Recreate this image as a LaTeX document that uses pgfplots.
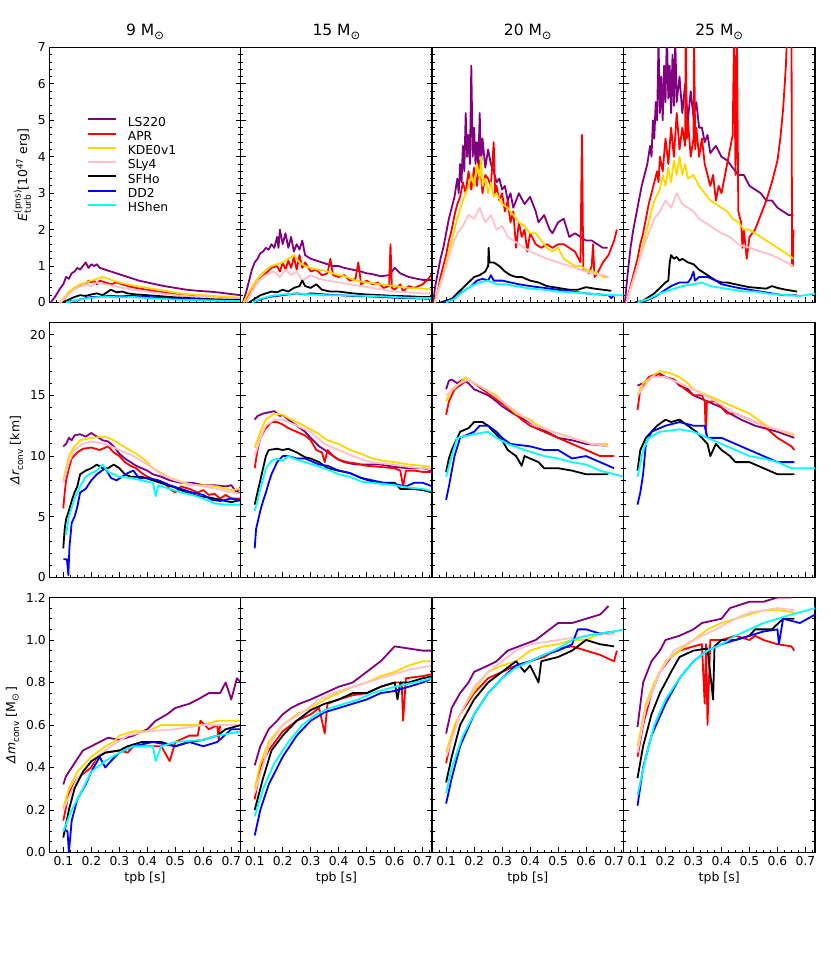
\documentclass[border=0pt]{standalone}
\usepackage{fontspec}
\setmainfont{DejaVu Sans}
\usepackage{pgfplots}
\pgfplotsset{compat=1.18}
\definecolor{cLS}{RGB}{128,0,128}
\definecolor{cAPR}{RGB}{255,0,0}
\definecolor{cKDE}{RGB}{255,215,0}
\definecolor{cSLy}{RGB}{255,192,203}
\definecolor{cSFH}{RGB}{0,0,0}
\definecolor{cDD}{RGB}{0,0,255}
\definecolor{cHS}{RGB}{0,255,255}
\newcommand{\fs}[1]{\fontsize{#1}{#1}\selectfont}
\newcommand{\supsub}[2]{\rlap{\raisebox{0.52em}{\fs{9}#1}}\raisebox{-0.3em}{\fs{9}#2}}
\newcommand{\sub}[1]{\raisebox{-0.3em}{\fs{9}#1}}
\newcommand{\sun}[1]{\raisebox{-0.25em}{\fs{#1}⊙}}
\pgfplotsset{
 base/.style={scale only axis,width=191.4pt,height=255pt,xmin=0.05,xmax=0.7336,
   xtick={0.1,0.2,0.3,0.4,0.5,0.6,0.7},
   minor xtick={0.075,0.1,0.125,0.15,0.175,0.2,0.225,0.25,0.275,0.3,0.325,0.35,0.375,0.4,0.425,0.45,0.475,0.5,0.525,0.55,0.575,0.6,0.625,0.65,0.675,0.7,0.725},
   tick align=inside, xtick pos=left, ytick pos=both,
   major tick length=5pt, minor tick length=2.5pt,
   every tick/.style={black,line width=0.9pt},
   axis line style={line width=1.4pt},
   /pgf/number format/assume math mode=true,
   tick label style={font=\fs{12.3}},
   label style={font=\fs{12.5}},
   x tick label style={/pgf/number format/.cd,fixed,fixed zerofill,precision=1},
   title style={at={(0.5,1)},anchor=base,yshift=6pt,font=\fs{15.5}},
   every axis plot/.append style={line width=1.8pt,line join=round},
 },
 r1/.style={ymin=0,ymax=7,ytick={0,1,2,3,4,5,6,7},minor ytick={0,0.2,...,7}},
 r2/.style={ymin=0,ymax=21,ytick={0,5,10,15,20},minor ytick={0,1,...,21}},
 r3/.style={ymin=0,ymax=1.2,ytick={0,0.2,0.4,0.6,0.8,1.0,1.2},
   minor ytick={0.05,0.1,0.15,0.2,0.25,0.3,0.35,0.4,0.45,0.5,0.55,0.6,0.65,0.7,0.75,0.8,0.85,0.9,0.95,1.0,1.05,1.1,1.15},
   yticklabel style={/pgf/number format/.cd,fixed,fixed zerofill,precision=1},
   xlabel={tpb [s]}},
 nox/.style={xticklabels={}},
 noy/.style={yticklabels={}},
}
\begin{document}
\begin{tikzpicture}
\path[use as bounding box] (0,0) rectangle (830pt,958pt);
% ================= ROW 1 =================
\begin{axis}[base,r1,nox,at={(49.3pt,910.5pt)},anchor=north west,
  title={9 M\sun{11.5}},
  ylabel={{\itshape E}\supsub{(pns)}{turb} [10\textsuperscript{47} erg]},
  legend style={at={(0.198,0.728)},anchor=north west,draw=none,fill=none,inner sep=0pt,
    font=\fs{12.3},nodes={inner sep=0pt,text height=9pt,text depth=2.5pt},row sep=2.8pt,
    /tikz/every odd column/.style={column sep=10.5pt}},
  legend cell align=left,
  legend image code/.code={\draw[#1,line width=2pt] (0pt,3.5pt) -- (28pt,3.5pt);}]
\addplot[cLS] coordinates {(0.055,0)(0.07,0.15)(0.09,0.4)(0.1,0.5)(0.11,0.7)(0.12,0.65)(0.13,0.8)(0.14,0.85)(0.15,0.95)(0.16,0.9)(0.17,1.0)(0.18,1.1)(0.19,0.95)(0.2,1.05)(0.21,1.0)(0.22,1.05)(0.23,0.95)(0.25,0.9)(0.27,0.85)(0.29,0.8)(0.31,0.75)(0.33,0.7)(0.35,0.65)(0.37,0.6)(0.4,0.55)(0.43,0.5)(0.46,0.45)(0.5,0.4)(0.54,0.35)(0.58,0.32)(0.62,0.3)(0.66,0.27)(0.7,0.23)(0.735,0.2)};
\addlegendentry{LS220}
\addplot[cAPR] coordinates {(0.09,0)(0.1,0.05)(0.12,0.25)(0.14,0.4)(0.16,0.45)(0.18,0.5)(0.19,0.6)(0.2,0.55)(0.21,0.6)(0.22,0.5)(0.23,0.6)(0.25,0.55)(0.27,0.5)(0.29,0.55)(0.31,0.5)(0.33,0.45)(0.36,0.4)(0.4,0.35)(0.44,0.3)(0.48,0.25)(0.52,0.2)(0.56,0.18)(0.6,0.15)(0.64,0.13)(0.68,0.12)(0.735,0.1)};
\addlegendentry{APR}
\addplot[cKDE] coordinates {(0.085,0)(0.1,0.1)(0.12,0.3)(0.14,0.4)(0.16,0.5)(0.18,0.55)(0.2,0.6)(0.22,0.65)(0.24,0.7)(0.26,0.65)(0.28,0.6)(0.3,0.55)(0.33,0.5)(0.36,0.45)(0.4,0.4)(0.44,0.35)(0.48,0.3)(0.52,0.25)(0.56,0.22)(0.6,0.2)(0.65,0.17)(0.7,0.15)(0.735,0.13)};
\addlegendentry{KDE0v1}
\addplot[cSLy] coordinates {(0.09,0)(0.11,0.15)(0.13,0.3)(0.15,0.4)(0.18,0.5)(0.2,0.45)(0.22,0.55)(0.25,0.5)(0.28,0.45)(0.31,0.4)(0.35,0.35)(0.4,0.3)(0.45,0.25)(0.5,0.2)(0.55,0.17)(0.6,0.15)(0.65,0.12)(0.735,0.1)};
\addlegendentry{SLy4}
\addplot[cSFH] coordinates {(0.1,0)(0.12,0.08)(0.14,0.15)(0.16,0.2)(0.18,0.18)(0.2,0.22)(0.22,0.25)(0.24,0.2)(0.26,0.3)(0.27,0.35)(0.29,0.28)(0.31,0.3)(0.33,0.25)(0.36,0.22)(0.4,0.2)(0.45,0.17)(0.5,0.14)(0.55,0.12)(0.6,0.1)(0.65,0.08)(0.735,0.07)};
\addlegendentry{SFHo}
\addplot[cDD] coordinates {(0.11,0)(0.14,0.05)(0.17,0.1)(0.2,0.15)(0.23,0.15)(0.26,0.18)(0.3,0.17)(0.35,0.18)(0.4,0.15)(0.45,0.13)(0.5,0.1)(0.55,0.1)(0.6,0.08)(0.65,0.06)(0.735,0.05)};
\addlegendentry{DD2}
\addplot[cHS] coordinates {(0.11,0)(0.15,0.07)(0.2,0.13)(0.25,0.16)(0.3,0.14)(0.35,0.15)(0.4,0.12)(0.45,0.1)(0.5,0.08)(0.55,0.07)(0.6,0.06)(0.65,0.05)(0.735,0.04)};
\addlegendentry{HShen}
\end{axis}
\begin{axis}[base,r1,nox,noy,at={(240.7pt,910.5pt)},anchor=north west,title={15 M\sun{11.5}}]
\addplot[cLS] coordinates {(0.058,0)(0.07,0.3)(0.08,0.6)(0.09,0.9)(0.1,1.1)(0.11,1.2)(0.12,1.35)(0.13,1.4)(0.14,1.5)(0.15,1.45)(0.16,1.6)(0.17,1.5)(0.18,1.8)(0.185,1.5)(0.19,2.0)(0.2,1.6)(0.21,1.9)(0.22,1.5)(0.23,1.8)(0.24,1.4)(0.25,1.6)(0.26,1.45)(0.27,1.7)(0.28,1.3)(0.3,1.2)(0.32,1.15)(0.34,1.1)(0.36,1.05)(0.38,1.0)(0.4,1.0)(0.42,0.95)(0.45,0.9)(0.48,0.85)(0.5,0.8)(0.52,0.78)(0.55,0.72)(0.58,0.75)(0.6,0.95)(0.62,0.8)(0.65,0.7)(0.68,0.65)(0.7,0.62)(0.735,0.62)};
\addplot[cAPR] coordinates {(0.06,0)(0.08,0.2)(0.1,0.45)(0.12,0.65)(0.14,0.8)(0.16,0.95)(0.18,1.0)(0.19,0.85)(0.2,1.1)(0.21,0.9)(0.22,1.15)(0.23,0.95)(0.24,1.25)(0.25,0.9)(0.26,1.3)(0.27,0.95)(0.28,1.1)(0.3,0.85)(0.32,0.9)(0.34,0.75)(0.36,0.8)(0.37,1.2)(0.38,0.75)(0.4,0.7)(0.42,0.75)(0.44,0.6)(0.46,0.65)(0.47,1.1)(0.48,0.5)(0.5,0.6)(0.52,0.5)(0.54,0.55)(0.56,0.4)(0.58,0.45)(0.585,1.6)(0.59,0.4)(0.6,0.35)(0.62,0.5)(0.63,0.3)(0.65,0.45)(0.67,0.4)(0.7,0.5)(0.72,0.65)(0.735,0.8)};
\addplot[cKDE] coordinates {(0.06,0)(0.08,0.3)(0.1,0.55)(0.12,0.75)(0.14,0.9)(0.16,1.0)(0.18,1.05)(0.2,1.1)(0.22,1.2)(0.24,1.3)(0.26,1.1)(0.28,1.0)(0.3,0.95)(0.33,0.9)(0.36,0.85)(0.4,0.75)(0.43,0.7)(0.46,0.6)(0.5,0.55)(0.55,0.5)(0.6,0.45)(0.65,0.4)(0.7,0.38)(0.735,0.35)};
\addplot[cSLy] coordinates {(0.07,0)(0.09,0.3)(0.11,0.55)(0.13,0.7)(0.15,0.8)(0.17,0.85)(0.19,0.7)(0.21,0.9)(0.23,0.75)(0.25,0.85)(0.27,0.6)(0.3,0.75)(0.33,0.65)(0.36,0.6)(0.4,0.55)(0.44,0.5)(0.48,0.45)(0.52,0.4)(0.56,0.35)(0.6,0.3)(0.65,0.28)(0.7,0.25)(0.735,0.25)};
\addplot[cSFH] coordinates {(0.08,0)(0.1,0.1)(0.12,0.2)(0.14,0.25)(0.16,0.3)(0.18,0.28)(0.2,0.35)(0.22,0.3)(0.24,0.4)(0.26,0.45)(0.27,0.6)(0.28,0.45)(0.3,0.4)(0.32,0.5)(0.34,0.35)(0.37,0.3)(0.4,0.3)(0.45,0.25)(0.5,0.22)(0.55,0.2)(0.6,0.18)(0.65,0.17)(0.7,0.15)(0.735,0.15)};
\addplot[cDD] coordinates {(0.09,0)(0.12,0.08)(0.15,0.15)(0.2,0.2)(0.25,0.25)(0.28,0.22)(0.3,0.25)(0.35,0.22)(0.4,0.2)(0.45,0.18)(0.5,0.17)(0.55,0.15)(0.6,0.13)(0.65,0.12)(0.735,0.1)};
\addplot[cHS] coordinates {(0.09,0)(0.12,0.1)(0.16,0.18)(0.2,0.22)(0.25,0.25)(0.3,0.22)(0.35,0.2)(0.4,0.2)(0.45,0.19)(0.5,0.18)(0.55,0.17)(0.6,0.15)(0.65,0.13)(0.735,0.12)};
\end{axis}
\begin{axis}[base,r1,nox,noy,at={(432.1pt,910.5pt)},anchor=north west,title={20 M\sun{11.5}}]
\addplot[cLS] coordinates {(0.055,0)(0.06,0.4)(0.07,0.8)(0.08,1.2)(0.09,1.5)(0.1,1.9)(0.11,2.3)(0.12,2.6)(0.13,2.9)(0.14,3.4)(0.145,3.0)(0.15,3.8)(0.155,3.3)(0.16,4.3)(0.165,3.6)(0.17,5.2)(0.175,4.0)(0.18,4.6)(0.185,3.8)(0.19,6.5)(0.195,4.0)(0.2,4.8)(0.205,3.8)(0.21,4.4)(0.215,3.7)(0.22,5.2)(0.225,3.8)(0.23,4.5)(0.24,3.7)(0.25,4.2)(0.26,3.8)(0.27,3.6)(0.28,3.3)(0.29,3.4)(0.3,3.1)(0.31,3.2)(0.32,2.8)(0.33,3.0)(0.34,2.6)(0.36,3.0)(0.38,2.7)(0.4,2.9)(0.42,2.5)(0.43,2.2)(0.45,2.4)(0.47,2.0)(0.48,1.9)(0.5,2.2)(0.52,2.3)(0.54,1.8)(0.56,1.9)(0.58,1.8)(0.6,1.7)(0.62,1.7)(0.64,1.6)(0.66,1.5)(0.677,1.5)};
\addplot[cAPR] coordinates {(0.058,0)(0.07,0.3)(0.08,0.7)(0.09,1.0)(0.1,1.3)(0.11,1.7)(0.12,2.0)(0.13,2.4)(0.14,2.7)(0.15,2.9)(0.16,3.3)(0.17,3.0)(0.18,3.6)(0.19,3.1)(0.2,3.7)(0.21,3.2)(0.22,3.9)(0.23,3.0)(0.24,3.5)(0.25,3.4)(0.26,3.2)(0.27,4.4)(0.275,3.0)(0.28,3.2)(0.29,2.8)(0.3,3.0)(0.31,2.5)(0.32,2.8)(0.33,2.2)(0.34,2.5)(0.35,1.5)(0.36,2.2)(0.37,1.8)(0.38,2.0)(0.39,1.4)(0.4,1.9)(0.42,1.6)(0.44,1.5)(0.46,1.6)(0.48,1.5)(0.5,1.6)(0.52,1.6)(0.54,1.5)(0.56,1.4)(0.58,1.1)(0.585,4.6)(0.59,0.9)(0.6,0.9)(0.61,0.8)(0.62,1.0)(0.625,1.6)(0.63,0.7)(0.64,0.8)(0.66,1.1)(0.68,1.3)(0.7,1.7)(0.71,2.0)};
\addplot[cKDE] coordinates {(0.058,0)(0.07,0.3)(0.09,0.8)(0.1,1.1)(0.12,1.7)(0.14,2.3)(0.16,2.8)(0.18,3.2)(0.19,3.5)(0.2,3.2)(0.21,3.8)(0.22,3.4)(0.225,4.0)(0.23,3.2)(0.24,3.4)(0.25,3.0)(0.26,3.3)(0.27,2.9)(0.28,3.0)(0.3,2.7)(0.32,2.6)(0.34,2.4)(0.36,2.2)(0.38,2.1)(0.4,1.9)(0.42,1.9)(0.44,1.7)(0.46,1.5)(0.48,1.4)(0.5,1.5)(0.52,1.2)(0.54,1.1)(0.56,1.0)(0.58,1.0)(0.6,0.9)(0.62,0.85)(0.64,0.8)(0.66,0.7)(0.68,0.7)};
\addplot[cSLy] coordinates {(0.06,0)(0.08,0.5)(0.1,1.0)(0.12,1.5)(0.14,1.9)(0.16,2.1)(0.18,2.4)(0.2,2.3)(0.22,2.6)(0.24,2.2)(0.26,2.4)(0.28,2.0)(0.3,2.1)(0.32,1.8)(0.34,1.7)(0.36,1.6)(0.38,1.5)(0.4,1.4)(0.43,1.3)(0.46,1.2)(0.5,1.1)(0.54,1.0)(0.58,0.9)(0.62,0.8)(0.66,0.75)(0.68,0.7)};
\addplot[cSFH] coordinates {(0.08,0)(0.1,0.05)(0.12,0.1)(0.14,0.25)(0.16,0.4)(0.18,0.55)(0.2,0.7)(0.22,0.75)(0.24,0.85)(0.25,1.0)(0.252,1.5)(0.255,1.1)(0.27,1.1)(0.29,1.0)(0.31,0.85)(0.33,0.75)(0.35,0.7)(0.37,0.7)(0.4,0.6)(0.43,0.55)(0.46,0.45)(0.5,0.4)(0.54,0.35)(0.57,0.35)(0.6,0.42)(0.63,0.38)(0.66,0.35)(0.69,0.32)};
\addplot[cDD] coordinates {(0.09,0)(0.11,0.05)(0.13,0.1)(0.15,0.25)(0.17,0.35)(0.19,0.45)(0.21,0.6)(0.23,0.65)(0.25,0.6)(0.26,0.75)(0.27,0.6)(0.3,0.6)(0.33,0.55)(0.36,0.5)(0.4,0.45)(0.45,0.4)(0.5,0.35)(0.55,0.3)(0.6,0.25)(0.65,0.22)(0.68,0.2)(0.69,0.12)(0.7,0.2)};
\addplot[cHS] coordinates {(0.1,0)(0.13,0.1)(0.16,0.3)(0.19,0.45)(0.22,0.55)(0.25,0.6)(0.28,0.5)(0.31,0.5)(0.35,0.45)(0.4,0.38)(0.45,0.35)(0.5,0.3)(0.55,0.28)(0.6,0.25)(0.65,0.22)(0.7,0.2)(0.735,0.2)};
\end{axis}
\begin{axis}[base,r1,nox,noy,at={(623.5pt,910.5pt)},anchor=north west,title={25 M\sun{11.5}}]
\addplot[cLS] coordinates {(0.055,0)(0.065,0.8)(0.075,1.5)(0.085,2.0)(0.095,2.4)(0.105,2.8)(0.115,3.2)(0.125,3.5)(0.135,3.8)(0.145,4.3)(0.15,4.0)(0.155,5.0)(0.16,4.5)(0.165,5.5)(0.17,5.0)(0.175,7.2)(0.18,5.2)(0.185,6.2)(0.19,5.0)(0.195,6.5)(0.2,5.5)(0.205,7.5)(0.21,5.6)(0.215,6.5)(0.22,5.2)(0.225,6.8)(0.23,5.4)(0.235,7.2)(0.24,5.5)(0.25,6.2)(0.26,5.2)(0.27,6.0)(0.28,5.0)(0.29,5.8)(0.3,5.1)(0.31,5.5)(0.32,4.8)(0.33,4.8)(0.34,4.4)(0.35,4.6)(0.36,4.1)(0.38,4.3)(0.4,4.0)(0.42,3.9)(0.44,3.7)(0.46,3.5)(0.48,3.5)(0.5,3.2)(0.52,3.1)(0.54,3.0)(0.56,2.8)(0.58,2.8)(0.6,2.6)(0.62,2.5)(0.64,2.4)(0.657,2.4)};
\addplot[cAPR] coordinates {(0.06,0)(0.07,0.3)(0.08,0.6)(0.09,0.9)(0.1,1.2)(0.11,1.6)(0.12,1.9)(0.13,2.3)(0.14,2.7)(0.15,3.0)(0.16,3.3)(0.17,3.6)(0.175,3.3)(0.18,4.0)(0.19,3.6)(0.2,4.5)(0.21,3.8)(0.22,4.8)(0.23,4.0)(0.24,5.2)(0.25,4.2)(0.26,4.8)(0.27,4.3)(0.272,7.5)(0.276,4.5)(0.28,5.0)(0.29,4.0)(0.3,4.5)(0.302,7.5)(0.306,4.2)(0.31,4.8)(0.32,4.0)(0.33,4.5)(0.34,3.8)(0.35,3.5)(0.36,3.2)(0.37,3.5)(0.38,2.8)(0.39,3.2)(0.4,3.0)(0.41,3.4)(0.42,3.8)(0.43,4.2)(0.44,4.6)(0.445,7.5)(0.45,3.5)(0.455,7.5)(0.46,2.5)(0.47,2.2)(0.475,1.5)(0.48,2.0)(0.49,1.2)(0.5,1.8)(0.52,2.0)(0.54,2.4)(0.56,2.8)(0.58,3.3)(0.6,3.9)(0.61,4.5)(0.62,5.3)(0.63,6.5)(0.635,7.5)(0.65,7.5)(0.652,1.0)(0.655,1.0)(0.657,2.0)};
\addplot[cKDE] coordinates {(0.06,0)(0.08,0.5)(0.1,1.0)(0.12,1.6)(0.14,2.2)(0.16,2.8)(0.18,3.1)(0.19,3.5)(0.2,3.2)(0.21,3.7)(0.22,3.3)(0.23,3.9)(0.24,3.5)(0.25,4.0)(0.26,3.5)(0.27,3.8)(0.28,3.4)(0.3,3.5)(0.32,3.2)(0.34,3.0)(0.36,2.8)(0.38,2.7)(0.4,2.6)(0.42,2.5)(0.44,2.3)(0.46,2.2)(0.48,2.0)(0.5,2.0)(0.52,1.9)(0.54,1.8)(0.56,1.7)(0.58,1.6)(0.6,1.5)(0.62,1.4)(0.64,1.3)(0.657,1.2)};
\addplot[cSLy] coordinates {(0.06,0)(0.08,0.5)(0.1,1.0)(0.12,1.5)(0.14,1.9)(0.16,2.3)(0.18,2.5)(0.2,2.8)(0.22,2.6)(0.24,3.0)(0.26,2.7)(0.28,2.6)(0.3,2.5)(0.32,2.3)(0.34,2.2)(0.36,2.1)(0.38,2.0)(0.4,1.9)(0.43,1.8)(0.46,1.6)(0.5,1.5)(0.54,1.4)(0.58,1.3)(0.62,1.15)(0.657,1.0)};
\addplot[cSFH] coordinates {(0.09,0)(0.12,0.05)(0.14,0.15)(0.16,0.25)(0.18,0.4)(0.2,0.55)(0.21,0.6)(0.215,1.1)(0.22,1.3)(0.23,1.2)(0.24,1.25)(0.25,1.15)(0.26,1.2)(0.28,1.1)(0.3,1.05)(0.32,0.9)(0.34,0.8)(0.36,0.7)(0.38,0.6)(0.4,0.55)(0.42,0.55)(0.45,0.5)(0.48,0.45)(0.5,0.42)(0.53,0.4)(0.56,0.38)(0.58,0.45)(0.6,0.4)(0.63,0.35)(0.67,0.3)};
\addplot[cDD] coordinates {(0.1,0)(0.13,0.05)(0.16,0.15)(0.19,0.3)(0.22,0.45)(0.25,0.55)(0.28,0.55)(0.29,0.65)(0.3,0.85)(0.305,0.6)(0.32,0.7)(0.35,0.7)(0.38,0.6)(0.4,0.5)(0.43,0.45)(0.46,0.4)(0.5,0.35)(0.54,0.3)(0.58,0.25)(0.62,0.2)(0.67,0.2)};
\addplot[cHS] coordinates {(0.1,0)(0.14,0.1)(0.18,0.25)(0.22,0.35)(0.26,0.45)(0.3,0.5)(0.33,0.55)(0.36,0.45)(0.4,0.4)(0.44,0.35)(0.48,0.3)(0.52,0.3)(0.56,0.25)(0.6,0.22)(0.64,0.2)(0.68,0.18)(0.7,0.2)(0.735,0.25)};
\end{axis}
% ================= ROW 2 =================
\begin{axis}[base,r2,nox,at={(49.3pt,635.5pt)},anchor=north west,
  ylabel={{\itshape Δr}\sub{conv} [km]}]
\addplot[cLS] coordinates {(0.1,10.8)(0.11,11.0)(0.12,11.5)(0.13,11.3)(0.14,11.7)(0.16,11.8)(0.18,11.6)(0.2,11.9)(0.22,11.6)(0.24,11.3)(0.26,11.2)(0.28,10.8)(0.3,10.2)(0.32,9.8)(0.34,9.5)(0.36,9.2)(0.38,9.0)(0.4,8.8)(0.42,8.5)(0.45,8.3)(0.48,8.0)(0.52,7.8)(0.56,7.8)(0.6,7.6)(0.64,7.6)(0.68,7.5)(0.7,7.6)(0.72,7.0)(0.735,7.5)};
\addplot[cAPR] coordinates {(0.1,5.7)(0.105,7.0)(0.11,8.0)(0.12,9.0)(0.13,9.8)(0.15,10.3)(0.17,10.6)(0.2,10.7)(0.23,10.5)(0.26,10.8)(0.28,10.3)(0.3,10.0)(0.32,9.5)(0.34,9.2)(0.36,9.0)(0.38,8.6)(0.4,8.3)(0.43,8.0)(0.46,7.8)(0.48,7.3)(0.5,7.0)(0.52,7.5)(0.55,7.3)(0.58,7.0)(0.6,7.2)(0.62,6.8)(0.64,6.9)(0.66,6.5)(0.68,6.8)(0.7,6.5)(0.735,6.5)};
\addplot[cKDE] coordinates {(0.1,8.0)(0.11,9.0)(0.12,10.0)(0.14,10.8)(0.16,11.3)(0.2,11.5)(0.25,11.6)(0.28,11.3)(0.3,11.0)(0.33,10.6)(0.36,10.2)(0.39,9.7)(0.42,9.0)(0.45,8.6)(0.48,8.2)(0.52,7.9)(0.55,7.6)(0.6,7.6)(0.65,7.5)(0.7,7.2)(0.735,7.3)};
\addplot[cSLy] coordinates {(0.1,7.8)(0.12,9.5)(0.14,10.5)(0.17,11.0)(0.2,11.2)(0.25,11.0)(0.3,10.5)(0.35,10.0)(0.4,9.3)(0.45,8.5)(0.5,8.0)(0.55,7.7)(0.6,7.5)(0.65,7.3)(0.7,7.0)(0.735,6.9)};
\addplot[cSFH] coordinates {(0.1,2.4)(0.105,4.0)(0.11,4.8)(0.12,5.5)(0.13,6.3)(0.14,7.0)(0.15,7.5)(0.16,8.5)(0.18,8.8)(0.2,9.0)(0.22,9.3)(0.24,9.0)(0.26,9.0)(0.28,9.3)(0.3,9.0)(0.32,8.5)(0.34,8.3)(0.38,8.3)(0.42,8.0)(0.46,7.7)(0.5,7.4)(0.54,7.0)(0.58,6.7)(0.62,6.6)(0.66,6.4)(0.7,6.2)(0.735,6.4)};
\addplot[cDD] coordinates {(0.1,1.5)(0.113,1.5)(0.118,0.2)(0.122,2.5)(0.13,4.5)(0.14,5.0)(0.15,5.8)(0.16,7.0)(0.18,7.3)(0.2,8.0)(0.22,8.5)(0.25,9.0)(0.27,8.2)(0.29,8.0)(0.31,8.3)(0.33,8.6)(0.35,8.8)(0.37,8.2)(0.4,8.2)(0.44,8.0)(0.48,7.6)(0.52,7.3)(0.56,7.0)(0.6,6.8)(0.63,6.4)(0.66,6.3)(0.7,6.5)(0.735,6.3)};
\addplot[cHS] coordinates {(0.11,3.5)(0.12,5.0)(0.14,6.5)(0.16,7.5)(0.18,8.3)(0.2,8.6)(0.22,8.8)(0.24,9.3)(0.26,8.7)(0.28,8.5)(0.3,8.3)(0.34,8.2)(0.38,8.0)(0.42,7.8)(0.43,6.7)(0.44,7.6)(0.48,7.3)(0.52,7.0)(0.56,6.8)(0.6,6.5)(0.64,6.1)(0.68,6.0)(0.735,6.0)};
\end{axis}
\begin{axis}[base,r2,nox,noy,at={(240.7pt,635.5pt)},anchor=north west]
\addplot[cLS] coordinates {(0.1,13.0)(0.11,13.3)(0.13,13.5)(0.15,13.6)(0.17,13.7)(0.19,13.3)(0.2,13.4)(0.22,13.0)(0.25,12.5)(0.28,12.0)(0.3,11.5)(0.33,10.8)(0.35,10.5)(0.38,10.0)(0.4,9.7)(0.42,9.5)(0.46,9.3)(0.5,9.3)(0.55,9.3)(0.6,9.1)(0.65,9.0)(0.7,9.0)(0.735,8.8)};
\addplot[cAPR] coordinates {(0.1,9.0)(0.11,10.5)(0.12,11.5)(0.14,12.3)(0.16,12.8)(0.18,12.8)(0.2,12.6)(0.22,12.3)(0.25,12.0)(0.28,11.7)(0.3,11.3)(0.32,10.5)(0.34,10.3)(0.35,9.5)(0.36,10.5)(0.38,10.0)(0.4,9.7)(0.43,9.5)(0.46,9.4)(0.5,9.2)(0.55,9.1)(0.6,9.0)(0.62,8.8)(0.63,7.5)(0.64,8.8)(0.67,8.8)(0.7,8.7)(0.735,8.7)};
\addplot[cKDE] coordinates {(0.1,10.7)(0.12,12.0)(0.14,13.0)(0.17,13.5)(0.2,13.4)(0.23,13.0)(0.26,12.7)(0.3,12.2)(0.33,11.8)(0.36,11.3)(0.4,11.0)(0.44,10.5)(0.48,10.2)(0.52,9.8)(0.56,9.6)(0.6,9.5)(0.65,9.3)(0.7,9.2)(0.735,9.1)};
\addplot[cSLy] coordinates {(0.1,10.0)(0.12,11.5)(0.14,12.5)(0.17,13.0)(0.2,13.0)(0.25,12.5)(0.3,12.0)(0.35,11.0)(0.4,10.5)(0.45,10.0)(0.5,9.6)(0.55,9.4)(0.6,9.3)(0.65,9.1)(0.7,9.0)(0.735,8.9)};
\addplot[cSFH] coordinates {(0.1,6.0)(0.11,7.0)(0.12,8.0)(0.13,9.0)(0.14,10.0)(0.15,10.5)(0.18,10.6)(0.2,10.5)(0.22,10.6)(0.25,10.3)(0.28,9.9)(0.3,9.8)(0.33,9.5)(0.36,9.0)(0.4,8.8)(0.44,8.6)(0.48,8.2)(0.52,7.9)(0.56,7.8)(0.6,7.8)(0.62,7.3)(0.66,7.3)(0.7,7.2)(0.735,7.0)};
\addplot[cDD] coordinates {(0.1,2.4)(0.105,4.0)(0.11,4.5)(0.12,5.5)(0.13,6.3)(0.14,7.0)(0.15,7.8)(0.16,8.5)(0.18,9.5)(0.2,10.0)(0.22,10.0)(0.25,9.8)(0.28,9.8)(0.3,9.6)(0.33,9.3)(0.36,9.2)(0.4,8.8)(0.44,8.6)(0.48,8.2)(0.52,8.0)(0.56,7.8)(0.6,7.7)(0.64,7.5)(0.67,7.8)(0.7,7.8)(0.735,7.5)};
\addplot[cHS] coordinates {(0.1,5.5)(0.11,6.3)(0.12,7.3)(0.14,9.0)(0.16,9.6)(0.18,9.8)(0.2,9.6)(0.22,10.0)(0.25,9.7)(0.28,9.5)(0.32,9.2)(0.36,8.9)(0.4,8.5)(0.44,8.3)(0.48,7.9)(0.52,7.8)(0.56,7.7)(0.6,7.6)(0.65,7.4)(0.7,7.3)(0.735,7.1)};
\end{axis}
\begin{axis}[base,r2,nox,noy,at={(432.1pt,635.5pt)},anchor=north west]
\addplot[cLS] coordinates {(0.1,15.5)(0.11,16.2)(0.12,16.3)(0.14,16.0)(0.16,16.3)(0.18,16.0)(0.2,15.5)(0.22,15.3)(0.25,15.0)(0.28,14.5)(0.3,14.1)(0.34,13.5)(0.38,13.0)(0.42,12.5)(0.46,12.0)(0.5,11.5)(0.55,11.3)(0.6,11.0)(0.65,10.9)(0.677,10.8)};
\addplot[cAPR] coordinates {(0.1,13.4)(0.11,14.5)(0.13,15.5)(0.16,16.0)(0.18,16.3)(0.2,16.0)(0.23,15.5)(0.26,15.0)(0.29,14.5)(0.32,14.0)(0.37,13.0)(0.4,12.5)(0.45,12.0)(0.5,11.5)(0.55,11.0)(0.6,10.5)(0.65,10.0)(0.7,10.0)};
\addplot[cKDE] coordinates {(0.1,14.5)(0.12,15.5)(0.15,16.0)(0.17,16.5)(0.2,16.0)(0.24,15.5)(0.28,15.0)(0.3,14.5)(0.35,13.5)(0.4,13.0)(0.43,12.5)(0.48,12.0)(0.55,11.5)(0.62,11.0)(0.68,11.0)};
\addplot[cSLy] coordinates {(0.1,15.0)(0.15,16.0)(0.18,16.3)(0.24,15.5)(0.3,14.5)(0.36,13.5)(0.42,12.5)(0.48,12.0)(0.55,11.5)(0.62,11.0)(0.68,10.8)};
\addplot[cSFH] coordinates {(0.1,8.7)(0.11,9.8)(0.12,10.5)(0.13,11.0)(0.15,12.0)(0.18,12.3)(0.2,12.8)(0.23,12.8)(0.25,12.5)(0.27,12.0)(0.3,11.3)(0.32,10.5)(0.35,10.0)(0.37,9.2)(0.38,10.0)(0.4,9.8)(0.43,9.5)(0.45,9.0)(0.5,9.0)(0.55,8.8)(0.6,8.5)(0.65,8.5)(0.68,8.5)};
\addplot[cDD] coordinates {(0.1,6.4)(0.11,7.5)(0.13,10.0)(0.15,11.5)(0.2,12.0)(0.22,12.5)(0.25,12.5)(0.28,12.0)(0.3,11.5)(0.33,11.0)(0.4,10.8)(0.45,10.5)(0.5,10.5)(0.55,9.8)(0.6,10.0)(0.65,9.5)(0.7,9.0)};
\addplot[cHS] coordinates {(0.1,8.3)(0.12,10.0)(0.14,11.5)(0.2,11.8)(0.25,12.0)(0.28,11.5)(0.32,11.0)(0.38,10.5)(0.45,10.0)(0.5,9.8)(0.55,9.5)(0.6,9.3)(0.65,8.8)(0.7,8.5)(0.735,8.3)};
\end{axis}
\begin{axis}[base,r2,nox,noy,at={(623.5pt,635.5pt)},anchor=north west]
\addplot[cLS] coordinates {(0.1,15.8)(0.12,16.0)(0.15,16.5)(0.18,16.8)(0.2,16.5)(0.23,16.3)(0.25,15.8)(0.28,15.5)(0.3,15.0)(0.35,14.5)(0.4,14.0)(0.43,13.5)(0.47,13.0)(0.52,12.5)(0.6,12.0)(0.66,11.5)};
\addplot[cAPR] coordinates {(0.1,13.8)(0.11,15.5)(0.14,16.5)(0.17,16.8)(0.2,16.5)(0.23,16.3)(0.27,15.5)(0.3,15.0)(0.33,15.0)(0.34,14.5)(0.344,11.8)(0.348,14.5)(0.38,14.5)(0.42,13.5)(0.45,13.5)(0.5,13.0)(0.55,12.5)(0.6,11.5)(0.65,10.8)(0.66,10.5)};
\addplot[cKDE] coordinates {(0.1,15.0)(0.12,16.0)(0.15,16.5)(0.18,17.0)(0.22,16.8)(0.25,16.5)(0.28,16.0)(0.3,15.5)(0.35,15.0)(0.4,14.5)(0.45,14.0)(0.5,13.5)(0.56,12.5)(0.62,12.0)(0.66,11.7)};
\addplot[cSLy] coordinates {(0.1,15.0)(0.15,16.5)(0.2,16.5)(0.25,16.0)(0.3,15.5)(0.38,14.5)(0.45,13.5)(0.55,12.5)(0.66,11.8)};
\addplot[cSFH] coordinates {(0.1,8.8)(0.11,10.5)(0.13,11.5)(0.15,12.0)(0.17,12.5)(0.2,13.0)(0.22,12.8)(0.25,13.0)(0.28,12.5)(0.31,12.0)(0.33,11.5)(0.35,11.0)(0.36,10.0)(0.38,11.0)(0.4,10.5)(0.43,10.0)(0.45,9.5)(0.5,9.5)(0.55,9.0)(0.6,8.5)(0.66,8.5)};
\addplot[cDD] coordinates {(0.1,6.0)(0.11,7.0)(0.12,8.5)(0.13,11.0)(0.15,12.0)(0.2,12.5)(0.25,12.8)(0.3,12.5)(0.34,12.5)(0.35,11.5)(0.4,11.5)(0.45,11.0)(0.5,10.5)(0.55,10.0)(0.6,9.5)(0.66,9.5)};
\addplot[cHS] coordinates {(0.1,8.3)(0.12,10.5)(0.14,11.5)(0.18,12.0)(0.25,12.2)(0.3,12.0)(0.35,11.5)(0.4,11.0)(0.45,10.5)(0.5,10.0)(0.55,9.8)(0.6,9.5)(0.65,9.0)(0.735,9.0)};
\end{axis}
% ================= ROW 3 =================
\begin{axis}[base,r3,at={(49.3pt,360.5pt)},anchor=north west,
  ylabel={{\itshape Δm}\sub{conv} [M\sun{9.5}\,]}]
\addplot[cLS] coordinates {(0.1,0.32)(0.11,0.36)(0.14,0.42)(0.17,0.48)(0.2,0.5)(0.23,0.52)(0.26,0.54)(0.3,0.53)(0.35,0.55)(0.4,0.58)(0.43,0.62)(0.47,0.65)(0.5,0.68)(0.55,0.7)(0.58,0.72)(0.62,0.75)(0.66,0.75)(0.68,0.8)(0.7,0.72)(0.72,0.82)(0.735,0.8)};
\addplot[cAPR] coordinates {(0.1,0.15)(0.12,0.28)(0.15,0.35)(0.2,0.4)(0.22,0.45)(0.25,0.47)(0.3,0.48)(0.33,0.47)(0.35,0.5)(0.4,0.5)(0.45,0.5)(0.48,0.43)(0.5,0.52)(0.55,0.55)(0.58,0.55)(0.59,0.62)(0.62,0.58)(0.65,0.6)(0.655,0.53)(0.66,0.6)(0.735,0.6)};
\addplot[cKDE] coordinates {(0.1,0.21)(0.12,0.3)(0.15,0.38)(0.2,0.45)(0.25,0.5)(0.28,0.52)(0.3,0.55)(0.35,0.57)(0.4,0.57)(0.45,0.6)(0.5,0.6)(0.6,0.6)(0.65,0.62)(0.735,0.62)};
\addplot[cSLy] coordinates {(0.1,0.2)(0.15,0.35)(0.22,0.45)(0.27,0.5)(0.33,0.55)(0.4,0.57)(0.5,0.58)(0.6,0.6)(0.735,0.6)};
\addplot[cSFH] coordinates {(0.1,0.07)(0.12,0.2)(0.14,0.3)(0.17,0.38)(0.2,0.43)(0.25,0.47)(0.3,0.48)(0.33,0.5)(0.38,0.52)(0.45,0.52)(0.5,0.5)(0.55,0.52)(0.6,0.53)(0.65,0.55)(0.68,0.58)(0.735,0.6)};
\addplot[cDD] coordinates {(0.1,0.11)(0.115,0.1)(0.12,0.0)(0.13,0.15)(0.15,0.25)(0.18,0.32)(0.2,0.38)(0.23,0.45)(0.25,0.4)(0.27,0.43)(0.3,0.47)(0.35,0.5)(0.42,0.52)(0.5,0.5)(0.55,0.52)(0.6,0.5)(0.65,0.52)(0.7,0.58)(0.735,0.58)};
\addplot[cHS] coordinates {(0.1,0.1)(0.13,0.2)(0.17,0.3)(0.2,0.38)(0.25,0.43)(0.3,0.47)(0.35,0.5)(0.42,0.5)(0.43,0.43)(0.45,0.5)(0.5,0.52)(0.6,0.53)(0.65,0.55)(0.735,0.57)};
\end{axis}
\begin{axis}[base,r3,noy,at={(240.7pt,360.5pt)},anchor=north west]
\addplot[cLS] coordinates {(0.1,0.41)(0.12,0.5)(0.15,0.58)(0.18,0.62)(0.2,0.65)(0.23,0.68)(0.26,0.7)(0.3,0.72)(0.35,0.75)(0.4,0.78)(0.45,0.8)(0.5,0.85)(0.55,0.9)(0.6,0.97)(0.65,0.96)(0.7,0.95)(0.735,0.95)};
\addplot[cAPR] coordinates {(0.1,0.25)(0.12,0.4)(0.15,0.48)(0.2,0.57)(0.25,0.62)(0.3,0.65)(0.33,0.68)(0.35,0.56)(0.36,0.7)(0.4,0.72)(0.45,0.74)(0.5,0.75)(0.55,0.78)(0.6,0.8)(0.625,0.8)(0.63,0.62)(0.64,0.82)(0.7,0.83)(0.735,0.84)};
\addplot[cKDE] coordinates {(0.1,0.3)(0.12,0.42)(0.15,0.52)(0.2,0.6)(0.25,0.65)(0.3,0.68)(0.35,0.72)(0.4,0.75)(0.45,0.78)(0.5,0.8)(0.55,0.83)(0.6,0.85)(0.65,0.88)(0.7,0.9)(0.735,0.9)};
\addplot[cSLy] coordinates {(0.1,0.28)(0.15,0.5)(0.2,0.6)(0.27,0.66)(0.33,0.72)(0.4,0.76)(0.5,0.8)(0.6,0.84)(0.65,0.86)(0.735,0.88)};
\addplot[cSFH] coordinates {(0.1,0.2)(0.13,0.35)(0.16,0.48)(0.2,0.55)(0.25,0.62)(0.3,0.67)(0.35,0.7)(0.4,0.72)(0.45,0.75)(0.5,0.75)(0.55,0.78)(0.6,0.8)(0.61,0.72)(0.62,0.8)(0.65,0.8)(0.7,0.82)(0.735,0.83)};
\addplot[cDD] coordinates {(0.1,0.08)(0.12,0.2)(0.15,0.32)(0.2,0.45)(0.25,0.55)(0.3,0.62)(0.35,0.66)(0.4,0.68)(0.45,0.7)(0.5,0.72)(0.55,0.75)(0.6,0.76)(0.65,0.78)(0.7,0.8)(0.735,0.82)};
\addplot[cHS] coordinates {(0.1,0.17)(0.13,0.3)(0.17,0.42)(0.22,0.52)(0.27,0.6)(0.32,0.65)(0.37,0.68)(0.42,0.7)(0.47,0.72)(0.52,0.75)(0.6,0.78)(0.67,0.8)(0.735,0.82)};
\end{axis}
\begin{axis}[base,r3,noy,at={(432.1pt,360.5pt)},anchor=north west]
\addplot[cLS] coordinates {(0.1,0.56)(0.12,0.68)(0.15,0.75)(0.18,0.8)(0.2,0.85)(0.25,0.88)(0.28,0.9)(0.32,0.95)(0.38,0.98)(0.42,1.0)(0.47,1.05)(0.5,1.08)(0.55,1.08)(0.6,1.1)(0.65,1.12)(0.68,1.16)};
\addplot[cAPR] coordinates {(0.1,0.42)(0.12,0.55)(0.15,0.65)(0.2,0.75)(0.25,0.82)(0.3,0.85)(0.35,0.88)(0.4,0.9)(0.45,0.92)(0.5,0.96)(0.55,0.97)(0.6,0.95)(0.65,0.93)(0.7,0.9)(0.71,0.95)};
\addplot[cKDE] coordinates {(0.1,0.47)(0.13,0.6)(0.17,0.7)(0.22,0.8)(0.25,0.85)(0.3,0.88)(0.35,0.9)(0.4,0.95)(0.45,0.97)(0.5,0.98)(0.55,1.0)(0.6,1.0)(0.65,1.03)(0.7,1.03)};
\addplot[cSLy] coordinates {(0.1,0.45)(0.15,0.65)(0.2,0.78)(0.25,0.85)(0.3,0.9)(0.35,0.95)(0.4,0.98)(0.5,1.0)(0.6,1.02)(0.7,1.03)};
\addplot[cSFH] coordinates {(0.1,0.33)(0.12,0.45)(0.15,0.6)(0.2,0.72)(0.25,0.8)(0.3,0.85)(0.35,0.9)(0.38,0.85)(0.4,0.88)(0.43,0.8)(0.44,0.9)(0.5,0.92)(0.55,0.95)(0.6,1.0)(0.65,0.98)(0.7,0.97)};
\addplot[cDD] coordinates {(0.1,0.23)(0.12,0.35)(0.15,0.5)(0.2,0.65)(0.25,0.75)(0.3,0.82)(0.35,0.88)(0.4,0.9)(0.45,0.93)(0.5,0.95)(0.55,0.98)(0.57,1.05)(0.6,1.05)(0.65,1.03)(0.7,1.04)};
\addplot[cHS] coordinates {(0.1,0.28)(0.12,0.4)(0.16,0.55)(0.2,0.65)(0.25,0.75)(0.3,0.82)(0.35,0.87)(0.4,0.9)(0.45,0.93)(0.5,0.96)(0.55,1.0)(0.6,1.02)(0.65,1.03)(0.7,1.04)(0.735,1.05)};
\end{axis}
\begin{axis}[base,r3,noy,at={(623.5pt,360.5pt)},anchor=north west]
\addplot[cLS] coordinates {(0.1,0.59)(0.12,0.8)(0.15,0.9)(0.18,0.95)(0.2,1.0)(0.25,1.02)(0.3,1.05)(0.33,1.08)(0.4,1.1)(0.43,1.15)(0.5,1.18)(0.55,1.18)(0.6,1.2)(0.65,1.2)};
\addplot[cAPR] coordinates {(0.1,0.45)(0.12,0.6)(0.15,0.75)(0.18,0.85)(0.22,0.92)(0.25,0.95)(0.3,0.97)(0.33,0.98)(0.34,0.7)(0.345,0.98)(0.35,0.6)(0.36,1.0)(0.4,1.0)(0.45,1.02)(0.5,1.0)(0.52,1.02)(0.55,1.0)(0.6,0.98)(0.65,0.97)(0.66,0.95)};
\addplot[cKDE] coordinates {(0.1,0.5)(0.13,0.7)(0.16,0.8)(0.2,0.9)(0.25,0.95)(0.3,1.0)(0.35,1.05)(0.4,1.08)(0.45,1.1)(0.5,1.12)(0.55,1.14)(0.6,1.14)(0.66,1.13)};
\addplot[cSLy] coordinates {(0.1,0.47)(0.13,0.68)(0.18,0.85)(0.23,0.95)(0.3,1.0)(0.38,1.05)(0.45,1.1)(0.5,1.13)(0.6,1.15)(0.66,1.14)};
\addplot[cSFH] coordinates {(0.1,0.35)(0.12,0.5)(0.15,0.65)(0.18,0.75)(0.22,0.85)(0.25,0.92)(0.3,0.95)(0.35,0.96)(0.37,0.72)(0.375,0.97)(0.4,1.0)(0.45,1.0)(0.5,1.02)(0.52,1.05)(0.58,1.05)(0.62,1.1)(0.66,1.1)};
\addplot[cDD] coordinates {(0.1,0.22)(0.12,0.4)(0.15,0.55)(0.2,0.7)(0.25,0.82)(0.3,0.9)(0.35,0.95)(0.4,0.98)(0.45,1.0)(0.5,1.02)(0.55,1.04)(0.6,1.05)(0.605,0.98)(0.62,1.1)(0.68,1.08)(0.735,1.12)};
\addplot[cHS] coordinates {(0.1,0.27)(0.13,0.45)(0.16,0.6)(0.2,0.72)(0.25,0.82)(0.3,0.9)(0.35,0.95)(0.4,0.98)(0.45,1.02)(0.5,1.05)(0.55,1.08)(0.6,1.1)(0.65,1.12)(0.735,1.15)};
\end{axis}
\end{tikzpicture}
\end{document}
